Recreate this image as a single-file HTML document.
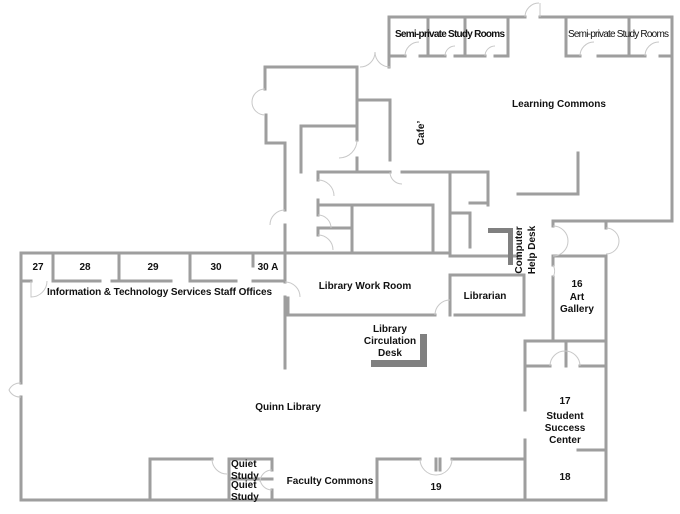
<!DOCTYPE html>
<html><head><meta charset="utf-8"><style>
html,body{margin:0;padding:0;background:#fff;}
svg{display:block;}
text{font-family:"Liberation Sans",sans-serif;font-size:10px;font-weight:bold;fill:#111;}
</style></head><body>
<svg width="680" height="514" viewBox="0 0 680 514" xmlns="http://www.w3.org/2000/svg">
<g stroke="#9e9e9e" stroke-width="3" fill="none" stroke-linecap="square">
<path d="M389 17 H525 M540 17 H672 V221 H553"/>
<path d="M389 17 V67"/>
<path d="M428 17 V56 M465 17 V56 M508 17 V56 M566 17 V56 M629 17 V56"/>
<path d="M389 56 H405 M420 56 H445 M455 56 H485 M495 56 H508 M566 56 H580 M598 56 H645 M660 56 H672"/>
<path d="M578 153 V194 H553 M550 194 H518"/>
<path d="M390 100 V160"/>
<path d="M265 67 H357 V140 M357 158 V172"/>
<path d="M357 100 H390"/>
<path d="M301 126 H357"/>
<path d="M301 126 V172"/>
<path d="M265 67 V89 M266 115 V143 H285 V210 M285 225 V282"/>
<path d="M318 172 H390 M402 172 H488 V205"/>
<path d="M318 172 V180 M318 200 V215 M318 228 V235"/>
<path d="M318 205 H433 V253"/>
<path d="M352 205 V253"/>
<path d="M318 228 H352"/>
<path d="M285 253 H450"/>
<path d="M450 172 V256 M450 213 H470 V247 M470 203 H488"/>
<path d="M450 256 H520"/>
<path d="M288 298 V315 H435"/>
<path d="M450 275 V315 M455 315 H524 V275 H450"/>
<path d="M21 253 H285"/>
<path d="M21 253 V383 M21 397 V500 H605"/>
<path d="M53 253 V281 M119 253 V281 M190 253 V281 M253 253 V266"/>
<path d="M21 281 H31 M53 281 H100 M112 281 H171 M190 281 H236 M253 281 H285"/>
<path d="M285 297 V368"/>
<path d="M553 221 V226 M553 256 V265 M553 277 V340"/>
<path d="M606 221 V228 M606 256 V500"/>
<path d="M553 256 H606"/>
<path d="M525 341 H606"/>
<path d="M525 366 H550 M580 366 H606 M566 341 V366"/>
<path d="M525 341 V410 M525 440 V500"/>
<path d="M578 450 H606"/>
<path d="M377 459 V500 M377 459 H420 M440 459 V470 M436 459 V470 M452 459 H525"/>
<path d="M150 459 V500 M150 459 H212 M229 459 H272 V470 M229 459 V500 M229 479 H272 M272 490 V500"/>
</g>
<g stroke="#c8c8c8" stroke-width="1" fill="none">
<path d="M525 17 A14 14 0 0 1 539 3 M540 17 V3"/>
<path d="M405 56 A14 14 0 0 1 419 42 M445 56 A10 10 0 0 1 455 46 M485 56 A10 10 0 0 1 495 46 M580 56 A14 14 0 0 1 594 42 M645 56 A14 14 0 0 1 659 42"/>
<path d="M360 67 A15 15 0 0 0 375 52 M390 67 A15 15 0 0 1 375 52"/>
<path d="M357 140 A18 18 0 0 1 339 158"/>
<path d="M265 89 A13 13 0 0 0 252 102 A13 13 0 0 0 265 115"/>
<path d="M285 210 A15 15 0 0 0 270 225 M318 180 A16 16 0 0 1 334 196 M318 215 A13 13 0 0 1 331 228 M318 235 A15 15 0 0 1 333 250"/>
<path d="M390 172 A12 12 0 0 0 402 184 M435 315 A15 15 0 0 1 450 300"/>
<path d="M285 282 A15 15 0 0 1 300 297 M31 281 V297 A16 16 0 0 0 47 281"/>
<path d="M21 383 A12 12 0 0 0 9 390 A12 12 0 0 0 21 397"/>
<path d="M553 226 A15 15 0 0 1 553 256 M553 265 A12 12 0 0 1 553 277"/>
<path d="M550 366 A15 15 0 0 1 565 351 M580 366 A15 15 0 0 0 565 351"/>
<path d="M420 459 A16 16 0 0 0 436 475 M452 459 A16 16 0 0 1 436 475"/>
<path d="M212 459 A15 15 0 0 0 227 474 M272 470 A12 12 0 0 0 260 482 M272 490 A12 12 0 0 1 260 478"/>
<path d="M606 228 A13 13 0 0 1 619 241 A13 13 0 0 1 606 254"/>
</g>
<rect x="371" y="360" width="56" height="7" fill="#808080"/>
<rect x="420" y="334" width="7" height="33" fill="#808080"/>
<rect x="488" y="228" width="25" height="5" fill="#808080"/>
<rect x="508" y="228" width="5" height="37" fill="#808080"/>
<text x="395" y="37" font-size="9" textLength="110">Semi-private Study Rooms</text>
<text x="568" y="37" font-size="9" textLength="101" style="font-weight:normal">Semi-private Study Rooms</text>
<text x="559" y="107" text-anchor="middle">Learning Commons</text>
<text transform="translate(424,133) rotate(-90)" text-anchor="middle">Cafe’</text>
<text transform="translate(522,250) rotate(-90)" text-anchor="middle">Computer</text>
<text transform="translate(535,250) rotate(-90)" text-anchor="middle">Help Desk</text>
<text x="38" y="270" text-anchor="middle">27</text>
<text x="85" y="270" text-anchor="middle">28</text>
<text x="153" y="270" text-anchor="middle">29</text>
<text x="216" y="270" text-anchor="middle">30</text>
<text x="268" y="270" text-anchor="middle">30 A</text>
<text x="47" y="295" textLength="225">Information &amp; Technology Services Staff Offices</text>
<text x="365" y="289" text-anchor="middle">Library Work Room</text>
<text x="485" y="299" text-anchor="middle">Librarian</text>
<text x="577" y="287" text-anchor="middle">16</text>
<text x="577" y="300" text-anchor="middle">Art</text>
<text x="577" y="312" text-anchor="middle">Gallery</text>
<text x="390" y="332" text-anchor="middle">Library</text>
<text x="390" y="344" text-anchor="middle">Circulation</text>
<text x="390" y="356" text-anchor="middle">Desk</text>
<text x="288" y="410" text-anchor="middle">Quinn Library</text>
<text x="565" y="404" text-anchor="middle">17</text>
<text x="565" y="419" text-anchor="middle">Student</text>
<text x="565" y="431" text-anchor="middle">Success</text>
<text x="565" y="443" text-anchor="middle">Center</text>
<text x="231" y="467">Quiet</text>
<text x="231" y="479">Study</text>
<text x="231" y="488">Quiet</text>
<text x="231" y="500">Study</text>
<text x="330" y="484" text-anchor="middle">Faculty Commons</text>
<text x="436" y="490" text-anchor="middle">19</text>
<text x="565" y="480" text-anchor="middle">18</text>
</svg>
</body></html>
